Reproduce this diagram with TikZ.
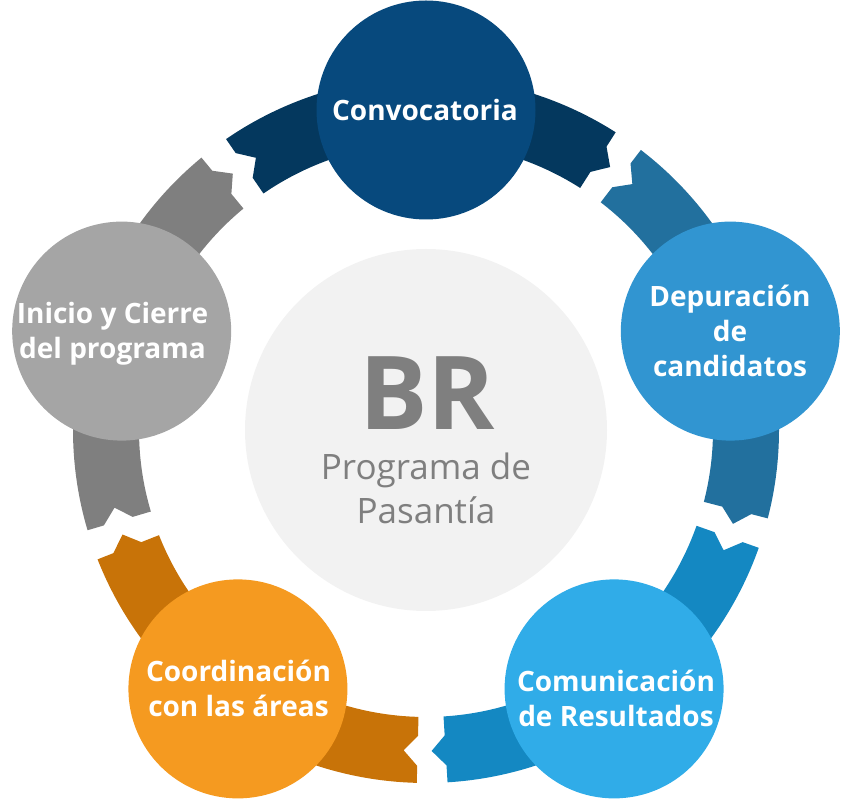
\documentclass[tikz,border=0pt]{standalone}
\usepackage{fontspec}
\setmainfont{Open Sans}
\usetikzlibrary{positioning}

\definecolor{convfill}{HTML}{07497D}
\definecolor{convband}{HTML}{04385E}
\definecolor{depfill}{HTML}{3195D1}
\definecolor{depband}{HTML}{22709E}
\definecolor{comfill}{HTML}{30ACE8}
\definecolor{comband}{HTML}{1488C2}
\definecolor{coofill}{HTML}{F59A20}
\definecolor{cooband}{HTML}{C87308}
\definecolor{inifill}{HTML}{A5A5A5}
\definecolor{iniband}{HTML}{7F7F7F}
\definecolor{hubfill}{HTML}{F2F2F2}
\definecolor{hubtext}{HTML}{7F7F7F}

\begin{document}
\begin{tikzpicture}[x=1pt, y=1pt,
    stage/.style={circle, minimum size=219pt, inner sep=0pt},
    stagetext/.style={text=white, align=center, inner sep=0pt, anchor=base,
      font=\fontsize{28}{35}\selectfont\bfseries}]
  \useasboundingbox (0,0) rectangle (841,801);
  \begin{scope}[shift={(426,371)}]
    \node[circle, fill=hubfill, minimum size=362pt, inner sep=0pt] (hub) at (0,0) {};

    % ring pieces, one behind each stage
    \foreach \a/\col [evaluate=\a as \t using \a+34.5,
                      evaluate=\a as \tt using \a+32,
                      evaluate=\a as \h using \a-32.5,
                      evaluate=\a as \hh using \a-35] in
        {90/convband, 18/depband, -54/comband, -126/cooband, 162/iniband}
      \fill[\col] (\t:353) arc[start angle=\t, end angle=\h, radius=353]
        -- (\h:336) -- (\hh:321) -- (\h:306) -- (\h:287)
        arc[start angle=\h, end angle=\t, radius=287]
        -- (\t:306) -- (\tt:321) -- (\t:336) -- cycle;

    % stages
    \node[stage, fill=convfill] (conv) at (90:320) {};
    \node[stage, fill=depfill] (dep) at (18:320) {};
    \node[stage, fill=comfill] (com) at (-54:320) {};
    \node[stage, fill=coofill] (coo) at (-126:320) {};
    \node[stage, fill=inifill] (ini) at (162:320) {};

    \node[stagetext] (convtxt) at (-1,309.3) {Convocatoria};
    \node[stagetext] (deptxt) at (304,53.3) {Depuración\\de\\candidatos};
    \node[stagetext] (comtxt) at (190,-296.7) {Comunicación\\de Resultados};
    \node[stagetext] (cootxt) at (-187.5,-286.7) {Coordinación\\con las áreas};
    \node[stagetext] (initxt) at (-313.5,71.7) {Inicio y Cierre\\del programa};

    % hub text
    \node[text=hubtext, inner sep=0pt, anchor=base,
      font=\fontsize{102}{102}\selectfont\bfseries] (br) at (1,0) {BR};
    \node[text=hubtext, inner sep=0pt, anchor=base, align=center,
      font=\fontsize{35}{44}\selectfont] (prog) at (0,-93.3) {Programa de\\Pasantía};
  \end{scope}
\end{tikzpicture}
\end{document}
